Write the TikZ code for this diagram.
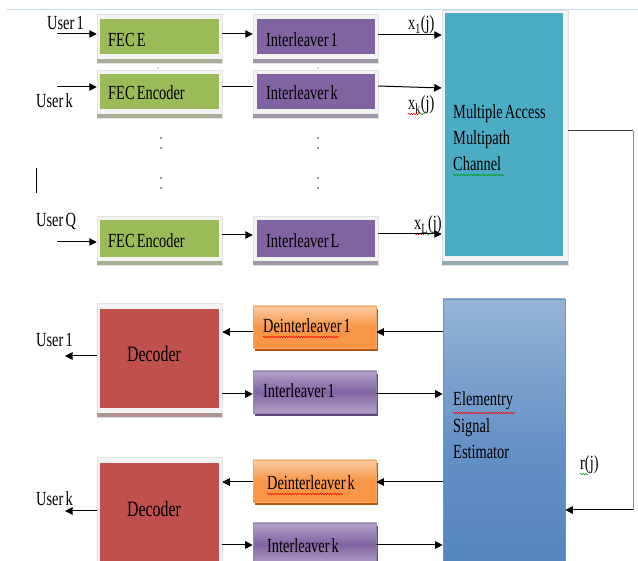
\documentclass[tikz,border=0pt]{standalone}
\usepackage{fontspec}
\setmainfont{Liberation Serif}[FakeStretch=0.72,WordSpace=0.6]
\usetikzlibrary{arrows.meta,decorations.pathmorphing,calc}
\definecolor{fgreen}{HTML}{9BBB59}
\definecolor{fpurple}{HTML}{8064A2}
\definecolor{fpurpleL}{HTML}{B3A2C7}
\definecolor{fpurpleD}{HTML}{5F497A}
\definecolor{fteal}{HTML}{4BACC6}
\definecolor{fred}{HTML}{C0504D}
\definecolor{forange}{HTML}{F79646}
\definecolor{forangeL}{HTML}{FBCBA3}
\definecolor{forangeD}{HTML}{B65A12}
\definecolor{fblue}{HTML}{4F81BD}
\definecolor{fblueL}{HTML}{95B3D7}
\definecolor{fblueB}{HTML}{6A93C9}
\definecolor{frame}{HTML}{F3F3F3}
\definecolor{frameline}{HTML}{E2E2E2}
\definecolor{topline}{HTML}{C6D9F1}
\newcommand\myframed[6]{% name, colour, left, top, right, bottom insets
  \fill[#2!35!gray!75!white] ([yshift=4.5pt]#1.south west) rectangle (#1.south east);
  \fill[#2] ([xshift=#3,yshift=-#4]#1.north west) rectangle ([xshift=-#5,yshift=#6]#1.south east);
}
\tikzset{
  framed/.style={rectangle, inner sep=0pt, fill=frame, draw=frameline, line width=0.5pt},
  lowbox/.style={rectangle, inner sep=0pt, minimum width=123pt, minimum height=42pt, line width=0.6pt},
  deint/.style={lowbox, draw=forange!85!white, top color=forangeL, bottom color=forange, middle color=forange,
    preaction={fill=forangeD, transform canvas={shift={(1.5pt,-3pt)}}}},
  intlow/.style={lowbox, draw=fpurple!80!white, top color=fpurpleL, bottom color=fpurpleL, middle color=fpurple,
    preaction={fill=fpurpleD, transform canvas={shift={(1.5pt,-3pt)}}}},
  txt/.style={anchor=base west, inner sep=0pt, font=\fontsize{20}{24}\selectfont},
  bigtxt/.style={txt, font=\fontsize{22}{26}\selectfont},
  arr/.style={-{Triangle[length=7.5pt,width=7.5pt]}, line width=1pt, black},
  plain/.style={line width=1pt, black},
  wavyred/.style={decorate, decoration={snake, amplitude=0.7pt, segment length=2.5pt}, line width=0.5pt, red},
  wavygreen/.style={wavyred, green!60!black},
}
\begin{document}
\begin{tikzpicture}[x=1pt,y=-1pt]
\useasboundingbox (0,0) rectangle (638,561);
\clip (0,0) rectangle (638,561);
\draw[topline, line width=0.8pt] (7,9) -- (638,9);

% ---------- transmitter boxes ----------
\node[framed, minimum width=125pt, minimum height=49pt] (fec1) at (159.5,38.5) {};
\node[framed, minimum width=125pt, minimum height=48pt] (fec2) at (159.5,94) {};
\node[framed, minimum width=125pt, minimum height=49pt] (fec3) at (159.5,240.5) {};
\node[framed, minimum width=125pt, minimum height=49pt] (il1) at (315.5,38.5) {};
\node[framed, minimum width=125pt, minimum height=48pt] (il2) at (315.5,94) {};
\node[framed, minimum width=125pt, minimum height=49pt] (il3) at (315.5,240.5) {};
\node[framed, minimum width=126pt, minimum height=255pt] (ch) at (505,137.5) {};
\myframed{fec1}{fgreen}{3pt}{5pt}{3pt}{9pt}
\myframed{fec2}{fgreen}{3pt}{4pt}{3pt}{9pt}
\myframed{fec3}{fgreen}{3pt}{4pt}{3pt}{8pt}
\myframed{il1}{fpurple}{4pt}{5pt}{3pt}{9pt}
\myframed{il2}{fpurple}{4pt}{4pt}{3pt}{9pt}
\myframed{il3}{fpurple}{4pt}{4pt}{3pt}{8pt}
\myframed{ch}{fteal}{3pt}{3pt}{5pt}{9pt}

% ---------- receiver boxes ----------
\node[framed, minimum width=125pt, minimum height=114pt] (dec1) at (159.5,360) {};
\node[framed, minimum width=125pt, minimum height=114pt] (dec2) at (159.5,514) {};
\myframed{dec1}{fred}{3pt}{6pt}{3pt}{9pt}
\myframed{dec2}{fred}{3pt}{6pt}{3pt}{9pt}
\node[deint] (deint1) at (314.5,327) {};
\node[intlow] (int1b) at (314.5,392) {};
\node[deint] (deintk) at (314.5,481) {};
\node[intlow] (intk2) at (314.5,544) {};
\node[rectangle, inner sep=0pt, minimum width=122pt, minimum height=301pt, draw=fblueB, line width=0.6pt,
      top color=fblueL, bottom color=fblue, middle color=fblue!70!fblueL] (est) at (504,449.5) {};

% ---------- texts ----------
\node[txt] (tfec1) at (108,47) {FEC E};
\node[txt] (tfec2) at (108,100) {FEC Encoder};
\node[txt] (tfec3) at (108,248) {FEC Encoder};
\node[txt] (til1) at (266,47) {Interleaver 1};
\node[txt] (til2) at (266,100) {Interleaver k};
\node[txt] (til3) at (266,248) {Interleaver L};
\node[txt] (tch1) at (453,119) {Multiple Access};
\node[txt] (tch2) at (453,145) {Multipath};
\node[txt] (tch3) at (453,171) {Channel};
\node[txt] (test1) at (453,406) {Elementry};
\node[txt] (test2) at (453,433) {Signal};
\node[txt] (test3) at (453,459) {Estimator};
\node[txt] (tdi1) at (263,333) {Deinterleaver 1};
\node[txt] (tib1) at (263,398) {Interleaver 1};
\node[txt] (tdik) at (267,490) {Deinterleaver k};
\node[txt] (tibk) at (267,552) {Interleaver k};
\node[bigtxt] (tdec1) at (127,362) {Decoder};
\node[bigtxt] (tdec2) at (127,517) {Decoder};
\node[txt] (us1) at (47,30) {User 1};
\node[txt] (usk) at (36,108) {User k};
\node[txt] (usq) at (36,227) {User Q};
\node[txt] (ur1) at (36,347) {User 1};
\node[txt] (urk) at (36,506) {User k};
\node[txt] (lx1) at (408,30) {x\textsubscript{1}(j)};
\node[txt] (lxk) at (408,110) {x\textsubscript{k}(j)};
\node[txt] (lxl) at (414,230) {x\textsubscript{L}(j)};
\node[txt] (lr) at (580,470) {r(j)};

% spell-check underlines
\draw[wavyred] (263,337) -- (339,337);
\draw[wavyred] (267,494) -- (343,494);
\draw[wavyred] (453,413) -- (515,413);
\draw[wavygreen] (453,175) -- (504,175);
\draw[wavyred] (408,114) -- (420,114);
\draw[wavygreen] (420,114) -- (425,114);
\draw[wavyred] (414,234) -- (426,234);
\draw[wavygreen] (426,234) -- (431,234);
\draw[wavygreen] (580,474) -- (588,474);

% ---------- connectors: transmitter ----------
\coordinate (u1) at (57,34);
\coordinate (uk) at (57,87);
\coordinate (uq) at (57,242);
\draw[arr] (u1) -- (u1 -| fec1.west);
\draw[arr] (uk) -- (uk -| fec2.west);
\draw[arr] (uq) -- (uq -| fec3.west);
\draw[arr] ([yshift=4.5pt]fec1.east) -- ([yshift=4.5pt]il1.west);
\draw[plain] ([yshift=7pt]fec2.east) -- ([yshift=7pt]il2.west);
\draw[arr] ([yshift=5.5pt]fec3.east) -- ([yshift=5.5pt]il3.west);
\coordinate (c1) at ([yshift=3.5pt]il1.east);
\coordinate (c2a) at ([yshift=8pt]il2.east);
\coordinate (c2b) at ([yshift=6pt]il2.east);
\coordinate (c3) at ([yshift=6.5pt]il3.east);
\draw[arr] (c1) -- (c1 -| ch.west);
\draw[arr] (c2a) -- (c2b -| ch.west);
\draw[arr] (c3) -- (c3 -| ch.west);

% feedback channel -> estimator
\coordinate (fb1) at (633,131);
\coordinate (fb2) at (633,510);
\draw[line width=1pt, black!75] ([yshift=6.5pt]ch.east) -- (fb1);
\draw[line width=1pt, black!45] (fb1) -- (fb2);
\draw[arr] (fb2) -- (fb2 -| est.east);

% ---------- connectors: receiver ----------
\coordinate (a1) at ([yshift=-5pt]deint1.east);
\draw[arr] (a1 -| est.west) -- (a1);
\draw[arr] (a1 -| deint1.west) -- (a1 -| dec1.east);
\coordinate (a2) at ([yshift=-2pt]int1b.west);
\draw[arr] (a2 -| dec1.east) -- (a2);
\draw[arr] (a2 -| int1b.east) -- (a2 -| est.west);
\coordinate (o1) at (65,356);
\draw[arr] (o1 -| dec1.west) -- (o1);
\coordinate (b1) at ([yshift=-1pt]deintk.east);
\draw[arr] (b1 -| est.west) -- (b1);
\draw[arr] (b1 -| deintk.west) -- (b1 -| dec2.east);
\coordinate (b2) at ([yshift=-1pt]intk2.west);
\draw[arr] (b2 -| dec2.east) -- (b2);
\draw[arr] (b2 -| intk2.east) -- (b2 -| est.west);
\coordinate (o2) at (65,511);
\draw[arr] (o2 -| dec2.west) -- (o2);

% ---------- ellipsis dots and stray mark ----------
\foreach \dx in {161,318}{
  \foreach \dy in {138,148,178,188}{ \fill[black!80] (\dx,\dy) circle (0.9pt); }
}
\fill[black!60] (158,68) circle (0.6pt);
\fill[black!60] (318,68) circle (0.6pt);
\draw[line width=1pt] (36,168) -- (36,193);
\end{tikzpicture}
\end{document}
